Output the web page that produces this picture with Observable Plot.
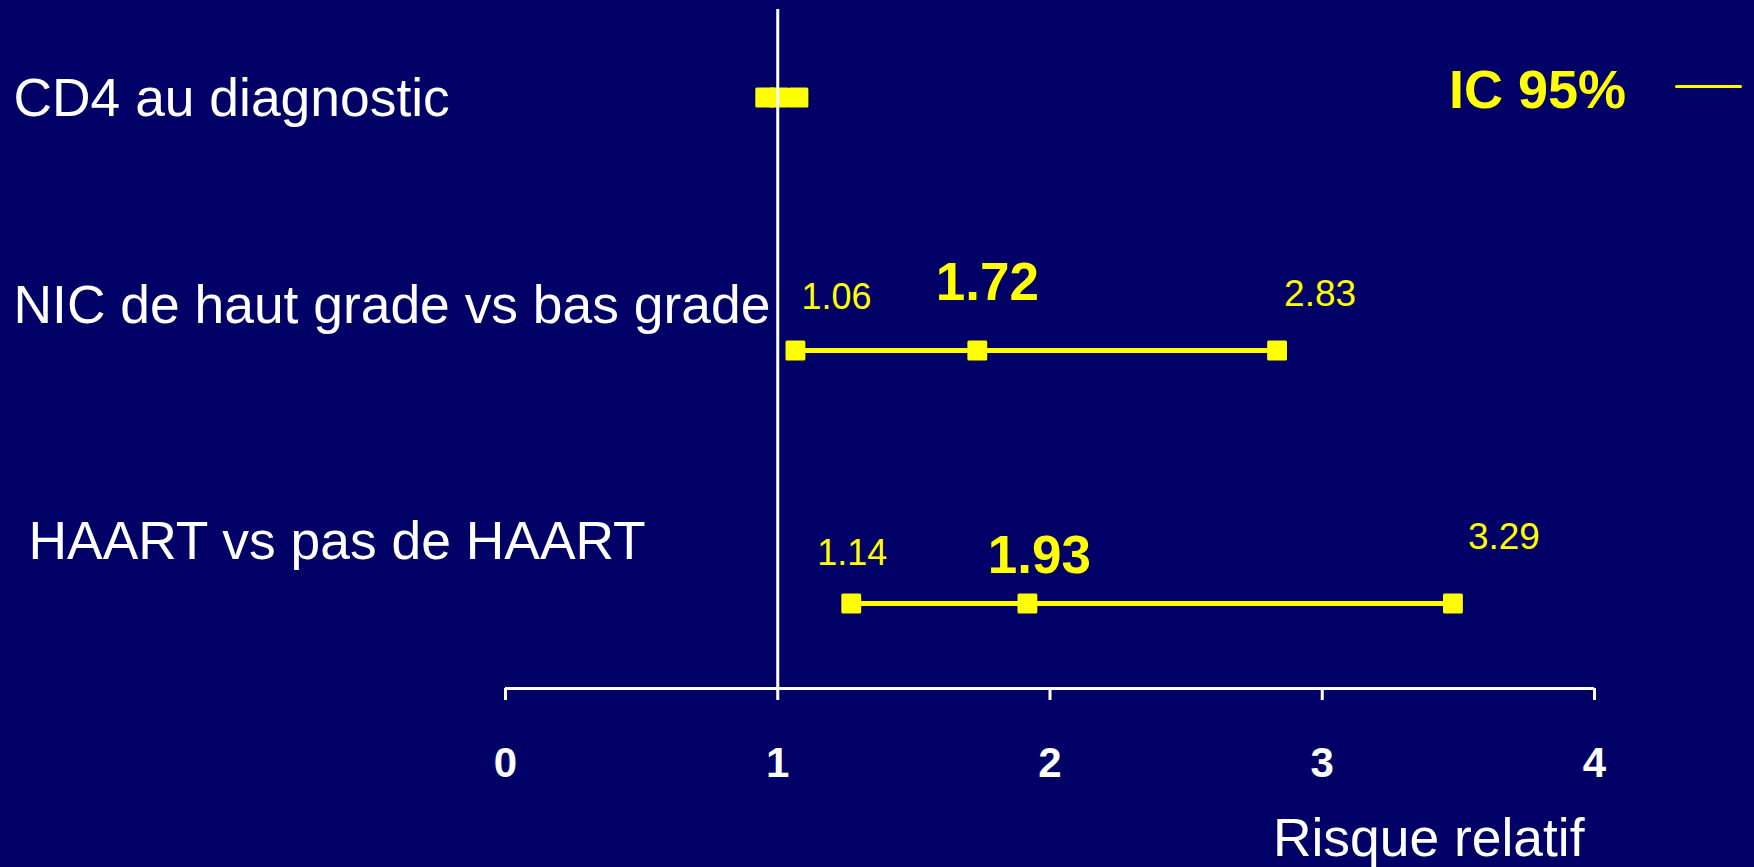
<!DOCTYPE html>
<html>
<head>
<meta charset="utf-8">
<script src="https://cdn.jsdelivr.net/npm/d3@7"></script>
<script src="https://cdn.jsdelivr.net/npm/@observablehq/plot@0.6"></script>
<style>
  html, body { margin: 0; padding: 0; background: #000066; }
  #wrap { position: relative; width: 1754px; height: 867px; overflow: hidden; font-family: "Liberation Sans", Arial, sans-serif; }
  #legend-text { position: absolute; left: 1449px; top: 62px; font-size: 54px; line-height: 54px; font-weight: bold; color: #ffff00; white-space: nowrap; }
  #legend-line { position: absolute; left: 1675px; top: 85px; width: 67px; height: 3px; border-radius: 2px; background: #ffff00; }
</style>
</head>
<body>
<div id="wrap">
  <div id="chart"></div>
  <div id="legend-text"></div>
  <div id="legend-line"></div>
</div>
<script>
// ---- data ----
const categories = ["CD4 au diagnostic", "NIC de haut grade vs bas grade", "HAART vs pas de HAART"];
const lower    = [0.954, 1.065, 1.27];   // plotted position of the lower bound
const estimate = [1.006, 1.733, 1.917];  // plotted position of the estimate
const upper    = [1.076, 2.834, 3.48];   // plotted position of the upper bound
const lowerText    = ["", "1.06", "1.14"];
const estimateText = ["", "1.72", "1.93"];
const upperText    = ["", "2.83", "3.29"];
const xTicks = [0, 1, 2, 3, 4];
const referenceValue = [1];
const axisLabel = "Risque relatif";
const legendLabel = "IC 95%";

// ---- table built from the arrays ----
const table = categories.map((c, i) => ({
  category: c, lower: lower[i], estimate: estimate[i], upper: upper[i],
  lowerText: lowerText[i], estimateText: estimateText[i], upperText: upperText[i]
}));
const points = table.flatMap(d => [
  {category: d.category, value: d.lower},
  {category: d.category, value: d.estimate},
  {category: d.category, value: d.upper}
]);

const YELLOW = "#ffff00";
const FONT = "Liberation Sans, Arial, sans-serif";

// label placement (styling, not data)
const catDx = [-492, -492, -477];
const catDy = [18, -28, -45];
const labelStyles = [
  {text: "lowerText", x: "lower", fontSize: 36, fontWeight: "normal", dx: [0, 41, 1], dy: [0, -42, -39]},
  {text: "estimateText", x: "estimate", fontSize: 53, fontWeight: "bold", dx: [0, 10, 12], dy: [0, -51, -31]},
  {text: "upperText", x: "upper", fontSize: 37, fontWeight: "normal", dx: [0, 43, 51], dy: [0, -45, -55]}
];

const numberMarks = [];
table.forEach((row, i) => {
  labelStyles.forEach(s => {
    if (!row[s.text]) return;
    numberMarks.push(Plot.text([row], {
      x: s.x, y: "category", text: s.text,
      fill: YELLOW, fontSize: s.fontSize, fontWeight: s.fontWeight,
      textAnchor: "middle", lineAnchor: "bottom",
      dx: s.dx[i], dy: s.dy[i]
    }));
  });
});

const catMarks = categories.map((c, i) => Plot.text([c], {
  y: d => d, text: d => d, frameAnchor: "left", textAnchor: "start", lineAnchor: "bottom",
  dx: catDx[i], dy: catDy[i], fill: "white", fontSize: 53.4
}));

const chart = Plot.plot({
  width: 1754,
  height: 867,
  marginLeft: 505,
  marginRight: 160,
  marginTop: 9,
  marginBottom: 179,
  style: {background: "#000066", fontFamily: FONT, color: "white", overflow: "visible"},
  x: {domain: [0, 4]},
  y: {type: "point", domain: categories, range: [96, 603], padding: 0, axis: null},
  marks: [
    Plot.axisX({
      ticks: xTicks, tickFormat: d => String(d), tickSize: 12, tickPadding: 47,
      fontSize: 42, fontWeight: "bold", color: "white", strokeWidth: 3, label: null
    }),
    // axis baseline from the first to the last tick
    Plot.ruleY([categories[categories.length - 1]], {
      y: d => d, x1: () => xTicks[0], x2: () => xTicks[xTicks.length - 1],
      dy: 85, stroke: "white", strokeWidth: 3
    }),
    Plot.ruleY(table, {y: "category", x1: "lower", x2: "upper", stroke: YELLOW, strokeWidth: 5}),
    Plot.dot(points, {
      x: "value", y: "category", symbol: "square", r: 9.5,
      fill: YELLOW, stroke: YELLOW, strokeWidth: 3, strokeLinejoin: "round"
    }),
    Plot.ruleX(referenceValue, {stroke: "white", strokeWidth: 3}),
    ...numberMarks,
    ...catMarks,
    Plot.text([axisLabel], {
      text: d => d, frameAnchor: "bottom-right", textAnchor: "end", lineAnchor: "bottom",
      dx: -10, dy: 167, fill: "white", fontSize: 53.4
    })
  ]
});

document.getElementById("chart").appendChild(chart);
document.getElementById("legend-text").textContent = legendLabel;
</script>
</body>
</html>
